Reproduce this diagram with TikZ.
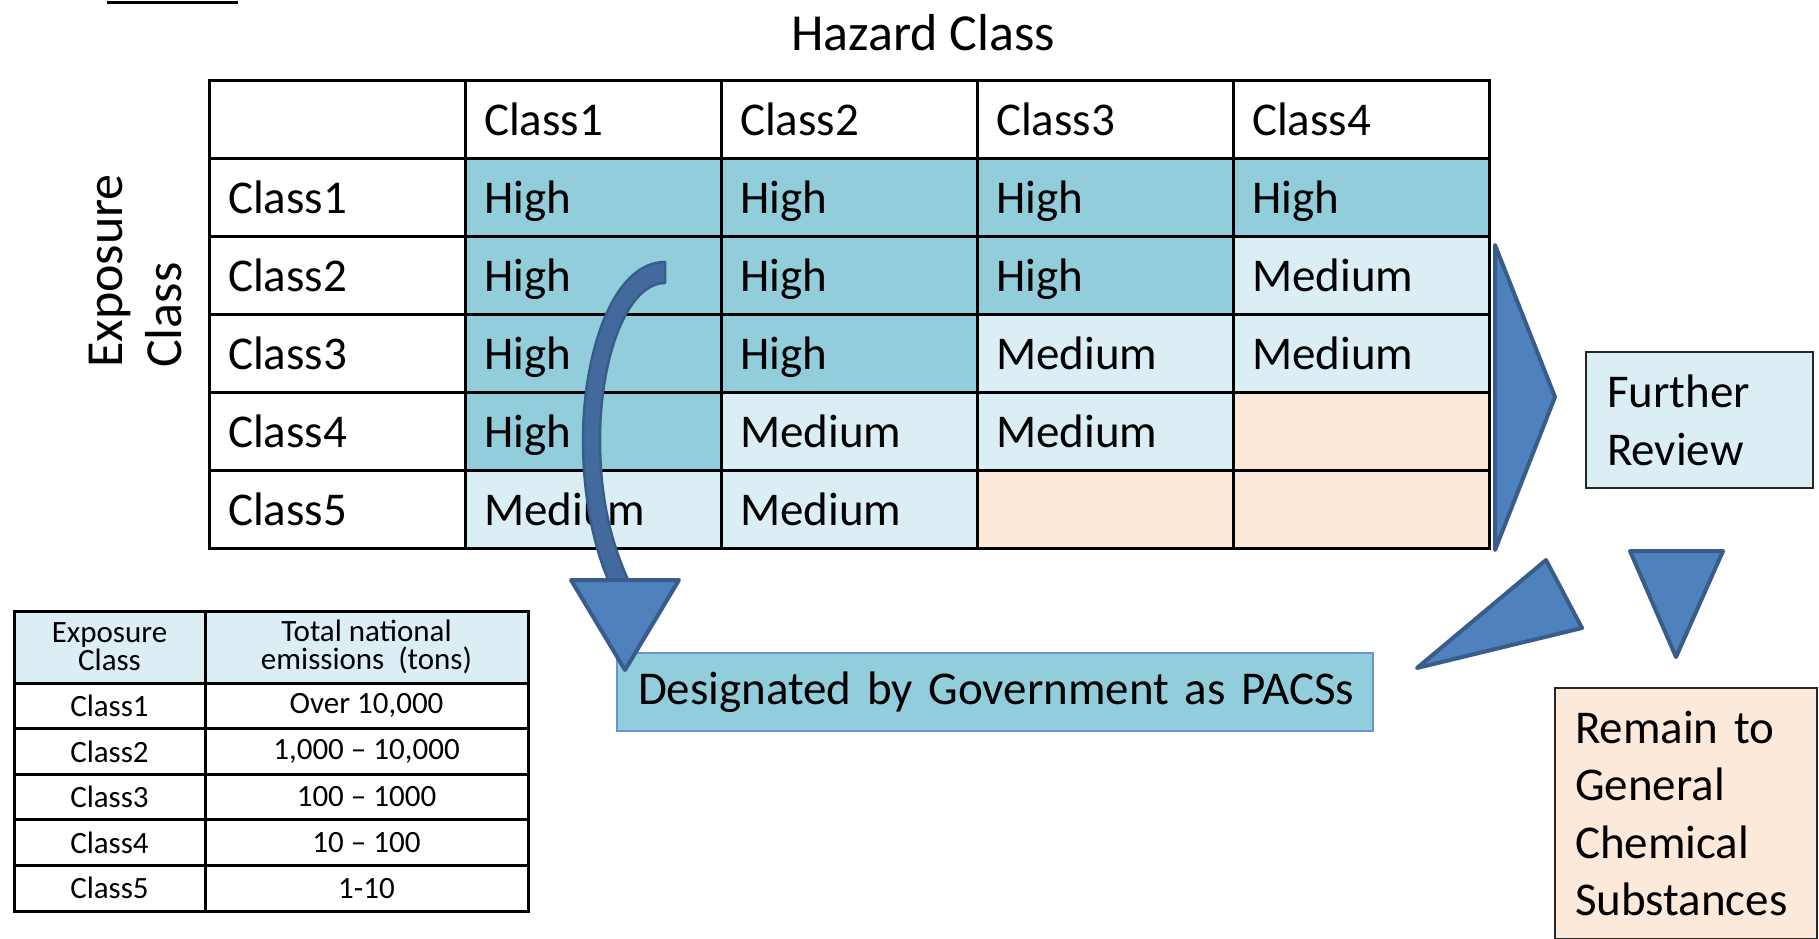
\documentclass[tikz,border=0pt]{standalone}
\usepackage{fontspec}
\setmainfont{Carlito}
\definecolor{hi}{HTML}{92CDDC}
\definecolor{med}{HTML}{DAEEF3}
\definecolor{peach}{HTML}{FDE9D9}
\definecolor{arrowfill}{HTML}{4F81BD}
\definecolor{arrowline}{HTML}{385D8A}
\definecolor{shaftfill}{HTML}{44699C}
\definecolor{boxline}{HTML}{6A96CC}
\newcommand\mcell[5]{\node[cell,fill=#4] (#1) at ({209+256*#2+128},{80+78*#3+39}) {#5};}
\begin{document}
\begin{tikzpicture}[x=1pt,y=-1pt,
  cell/.style={draw=black, line width=3pt, minimum width=256pt, minimum height=78pt,
    text width=218pt, inner xsep=19pt, inner ysep=0pt, align=left, outer sep=0pt,
    text height=34pt, text depth=2pt,
    font=\fontsize{47}{56}\selectfont},
  scell/.style={draw=black, line width=3pt, minimum height=45.6pt, inner sep=0pt,
    align=center, outer sep=0pt, font=\fontsize{31}{28}\selectfont},
  blockarrow/.style={fill=arrowfill, draw=arrowline, line width=4pt, line join=round},
  textbox/.style={anchor=north west, align=left, outer sep=0pt, font=\fontsize{47}{58}\selectfont}
]
\useasboundingbox (0,0) rectangle (1819,938);
\clip (0,0) rectangle (1819,938);
\fill[white] (0,0) rectangle (1819,938);

% decorative line
\draw[line width=3pt] (107,2.5) -- (238,2.5);

% titles
\node[anchor=base, font=\fontsize{52}{60}\selectfont, inner sep=0pt] (hazard) at (923,50) {Hazard Class};
\node[rotate=90, align=left, inner sep=0pt, font=\fontsize{52}{59}\selectfont] (expo) at (136,271) {Exposure\\Class};

% main table
\mcell{h0}{0}{0}{white}{}
\mcell{h1}{1}{0}{white}{Class1}
\mcell{h2}{2}{0}{white}{Class2}
\mcell{h3}{3}{0}{white}{Class3}
\mcell{h4}{4}{0}{white}{Class4}
\mcell{r1}{0}{1}{white}{Class1}
\mcell{c11}{1}{1}{hi}{High}
\mcell{c12}{2}{1}{hi}{High}
\mcell{c13}{3}{1}{hi}{High}
\mcell{c14}{4}{1}{hi}{High}
\mcell{r2}{0}{2}{white}{Class2}
\mcell{c21}{1}{2}{hi}{High}
\mcell{c22}{2}{2}{hi}{High}
\mcell{c23}{3}{2}{hi}{High}
\mcell{c24}{4}{2}{med}{Medium}
\mcell{r3}{0}{3}{white}{Class3}
\mcell{c31}{1}{3}{hi}{High}
\mcell{c32}{2}{3}{hi}{High}
\mcell{c33}{3}{3}{med}{Medium}
\mcell{c34}{4}{3}{med}{Medium}
\mcell{r4}{0}{4}{white}{Class4}
\mcell{c41}{1}{4}{hi}{High}
\mcell{c42}{2}{4}{med}{Medium}
\mcell{c43}{3}{4}{med}{Medium}
\mcell{c44}{4}{4}{peach}{}
\mcell{r5}{0}{5}{white}{Class5}
\mcell{c51}{1}{5}{med}{Medium}
\mcell{c52}{2}{5}{med}{Medium}
\mcell{c53}{3}{5}{peach}{}
\mcell{c54}{4}{5}{peach}{}

% small table
\node[scell, fill=med, minimum width=191pt, minimum height=72pt] (sh1) at (109.5,647) {Exposure\\Class};
\node[scell, fill=med, minimum width=323pt, minimum height=72pt] (sh2) at (366.5,647) {Total national\\emissions\ \ (tons)};
\foreach \i/\a/\b in {0/Class1/{Over 10,000}, 1/Class2/{1,000 -- 10,000}, 2/Class3/{100 -- 1000}, 3/Class4/{10 -- 100}, 4/Class5/{1-10}}{
  \node[scell, minimum width=191pt] (sa\i) at (109.5,{683+45.6*\i+22.8}) {\a};
  \node[scell, minimum width=323pt] (sb\i) at (366.5,{683+45.6*\i+22.8}) {\b};
}

% boxes
\node[textbox, fill=hi, draw=boxline, line width=1.5pt, minimum width=756pt, minimum height=78pt,
  text width=714pt, inner xsep=21pt, inner ysep=0pt] (desig) at (617,653) {\mbox{Designated by Government as PACSs}};
\node[textbox, fill=med, draw=black!85, line width=2pt, minimum width=227pt, minimum height=136pt,
  text width=185pt, inner xsep=21pt, inner ysep=0pt] (review) at (1586,352) {Further\\Review};
\node[textbox, fill=peach, draw=black!85, line width=2pt, minimum width=262pt,
  text width=222pt, inner xsep=20pt, inner ysep=23pt, font=\fontsize{47}{57.5}\selectfont] (remain) at (1555,688)
  {Remain to\\General\\Chemical\\Substances};

% block arrows
\draw[blockarrow] (1495,245) -- (1555,397) -- (1495,550) -- cycle;
\draw[blockarrow] (1546,560) -- (1582,628) -- (1417,668) -- cycle;
\draw[blockarrow] (1630,551) -- (1723,551) -- (1676,657) -- cycle;

% curved arrow
\draw[fill=shaftfill, draw=arrowline, line width=2.5pt, line join=round]
  (665,262) .. controls (612,262) and (583,355) .. (583,440)
  .. controls (583,505) and (597,555) .. (610,584) -- (630,584)
  .. controls (614,550) and (600,505) .. (600,440)
  .. controls (600,355) and (628,283) .. (665,283) -- cycle;
\draw[blockarrow] (571,580) -- (679,580) -- (625,670) -- cycle;
\end{tikzpicture}
\end{document}
